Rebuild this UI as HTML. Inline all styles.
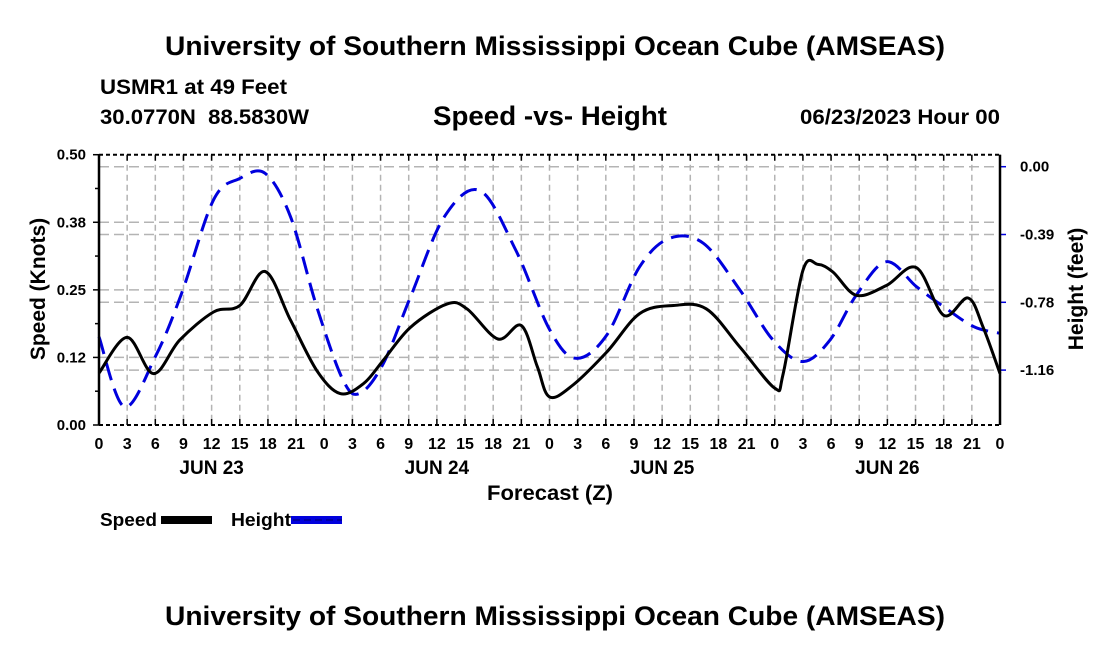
<!DOCTYPE html>
<html><head><meta charset="utf-8"><style>
body{margin:0;background:#fff}
svg{display:block;font-family:"Liberation Sans",sans-serif;font-weight:bold}
</style></head><body>
<svg id="c" width="1100" height="650" viewBox="0 0 1100 650" xmlns="http://www.w3.org/2000/svg">
<text x="165" y="55" font-size="27" textLength="780" lengthAdjust="spacingAndGlyphs">University of Southern Mississippi Ocean Cube (AMSEAS)</text>
<text x="100" y="94" font-size="21" textLength="187" lengthAdjust="spacingAndGlyphs">USMR1 at 49 Feet</text>
<text x="100" y="124" font-size="21" textLength="209" lengthAdjust="spacingAndGlyphs" xml:space="preserve">30.0770N  88.5830W</text>
<text x="433" y="125" font-size="27" textLength="234" lengthAdjust="spacingAndGlyphs">Speed -vs- Height</text>
<text x="800" y="124" font-size="21" textLength="200" lengthAdjust="spacingAndGlyphs">06/23/2023 Hour 00</text>
<g id="grid"></g>
<g id="series"></g>
<g id="axes"></g>
<text x="487" y="500" font-size="21" textLength="126" lengthAdjust="spacingAndGlyphs">Forecast (Z)</text>
<text transform="translate(45,289) rotate(-90)" font-size="21" text-anchor="middle">Speed (Knots)</text>
<text transform="translate(1083,289) rotate(-90)" font-size="21" text-anchor="middle">Height (feet)</text>
<g><text x="100" y="526" font-size="18" textLength="57" lengthAdjust="spacingAndGlyphs">Speed</text><rect x="161" y="516" width="51" height="8" fill="#000"/></g>
<g><text x="231" y="526" font-size="18" textLength="60" lengthAdjust="spacingAndGlyphs">Height</text><rect x="291" y="516" width="51" height="8" fill="#0000dd"/><line x1="293" y1="520" x2="342" y2="520" stroke="#000" stroke-width="1" stroke-dasharray="7,4" opacity="0.5"/></g>
<text x="165" y="625" font-size="27" textLength="780" lengthAdjust="spacingAndGlyphs">University of Southern Mississippi Ocean Cube (AMSEAS)</text>
</svg>
<script>
const speedHours=[0,3,5.8,8.6,12.2,15,17.7,20.4,23.2,25.7,28.2,30.3,33.2,37.1,39.2,42.5,45,46.7,48,50.5,54.1,57.6,61.2,64.7,68.3,72,72.9,75,76.6,78.2,80.7,83.9,87.1,90,92.6,94.2,96];
const speedValues=[0.096,0.162,0.095,0.157,0.209,0.221,0.284,0.194,0.101,0.058,0.077,0.12,0.181,0.224,0.215,0.159,0.184,0.108,0.052,0.074,0.135,0.206,0.221,0.215,0.144,0.068,0.095,0.286,0.297,0.283,0.24,0.258,0.291,0.203,0.235,0.181,0.095];
const heightHours=[0,2.7,6,8.8,12.2,15,17.7,20.4,23.2,26,27.8,30.3,33.2,36.8,40.6,44.4,48,50.8,54.1,57.6,60.8,64.4,68.3,71.8,75,77.9,80.7,83.9,87.1,90,93.2,96];
const heightValues=[-0.972,-1.372,-1.086,-0.724,-0.19,-0.067,-0.038,-0.286,-0.8,-1.219,-1.295,-1.124,-0.743,-0.286,-0.137,-0.476,-0.93,-1.095,-0.962,-0.572,-0.409,-0.438,-0.705,-0.99,-1.114,-0.99,-0.733,-0.543,-0.686,-0.8,-0.914,-0.952];
const leftTicks=["0.00","0.12","0.25","0.38","0.50"];
const rightTicks=["0.00","-0.39","-0.78","-1.16"];
const dayLabels=["JUN 23","JUN 24","JUN 25","JUN 26"];

const X0=99,X1=1000,YT=154.7,YB=425;
const xs=h=>X0+h/96*(X1-X0);
const ysL=v=>YB-v/0.5*(YB-YT);
const yR=v=>166.7+(-v)/0.3875*67.8;
const NS="http://www.w3.org/2000/svg";
function mk(tag,attrs,parent,txt){const e=document.createElementNS(NS,tag);for(const k in attrs)e.setAttribute(k,attrs[k]);if(txt!=null)e.textContent=txt;parent.appendChild(e);return e;}
const grid=document.getElementById('grid'),axes=document.getElementById('axes'),series=document.getElementById('series');
for(let i=0;i<=32;i++){const x=xs(i*3);
 if(i>0&&i<32){const l=mk('line',{x1:x,y1:YT,x2:x,y2:YB,stroke:'#b4b4b4','stroke-width':1.5,'stroke-dasharray':'6,4'},grid);
 }
 mk('line',{x1:x,y1:YB-6,x2:x,y2:YB,stroke:'#000','stroke-width':1.5},axes);
 mk('line',{x1:x,y1:YT,x2:x,y2:YT+6,stroke:'#000','stroke-width':1.5},axes);
 const t=mk('text',{x:x,y:449,'font-size':16,'text-anchor':'middle'},axes,String((i*3)%24));
 
}
dayLabels.forEach((d,i)=>{const t=mk('text',{x:xs(i*24+12),y:474,'font-size':19,'text-anchor':'middle'},axes,d);
 });
leftTicks.forEach((s,i)=>{const v=i*0.125,y=ysL(v);
 if(i>0&&i<4){const l=mk('line',{x1:X0,y1:y,x2:X1,y2:y,stroke:'#b4b4b4','stroke-width':1.5,'stroke-dasharray':'10,5'},grid);
 }
 mk('line',{x1:X0-6,y1:y,x2:X0,y2:y,stroke:'#000','stroke-width':1.5},axes);
 const t=mk('text',{x:86,y:y+5,'font-size':15,'text-anchor':'end'},axes,s);
 
 if(i<4){mk('line',{x1:X0-4,y1:ysL(v+0.0625),x2:X0,y2:ysL(v+0.0625),stroke:'#000','stroke-width':1.5},axes);}
});
rightTicks.forEach((s,i)=>{const v=-i*0.3875,y=yR(v);
 const l=mk('line',{x1:X0,y1:y,x2:X1,y2:y,stroke:'#b4b4b4','stroke-width':1.5,'stroke-dasharray':'10,5'},grid);
 
 mk('line',{x1:X1,y1:y,x2:X1+6,y2:y,stroke:'#0000dd','stroke-width':1.5},axes);
 const t=mk('text',{x:1020,y:y+5,'font-size':15},axes,s);
 
});
mk('line',{x1:X0,y1:YT,x2:X1,y2:YT,stroke:'#000','stroke-width':2,'stroke-dasharray':'4,3'},axes);
mk('line',{x1:X0,y1:YB,x2:X1,y2:YB,stroke:'#000','stroke-width':2,'stroke-dasharray':'4,3'},axes);
mk('line',{x1:X0,y1:YT,x2:X0,y2:YB,stroke:'#000','stroke-width':2.5},axes);
mk('line',{x1:X1,y1:YT,x2:X1,y2:YB,stroke:'#000','stroke-width':2.5},axes);
function spline(px){let d=`M${px[0][0].toFixed(1)},${px[0][1].toFixed(1)}`;
 for(let i=0;i<px.length-1;i++){const p0=px[Math.max(0,i-1)],p1=px[i],p2=px[i+1],p3=px[Math.min(px.length-1,i+2)];
  const c1=[p1[0]+(p2[0]-p0[0])/6,p1[1]+(p2[1]-p0[1])/6],c2=[p2[0]-(p3[0]-p1[0])/6,p2[1]-(p3[1]-p1[1])/6];
  d+=`C${c1[0].toFixed(1)},${c1[1].toFixed(1)} ${c2[0].toFixed(1)},${c2[1].toFixed(1)} ${p2[0].toFixed(1)},${p2[1].toFixed(1)}`;}
 return d;}
const hp=mk('path',{d:spline(heightHours.map((h,i)=>[xs(h),yR(heightValues[i])])),fill:'none',stroke:'#0000dd','stroke-width':3,'stroke-dasharray':'18,9'},series);


const sp=mk('path',{d:spline(speedHours.map((h,i)=>[xs(h),ysL(speedValues[i])])),fill:'none',stroke:'#000','stroke-width':3},series);


</script>
</body></html>
